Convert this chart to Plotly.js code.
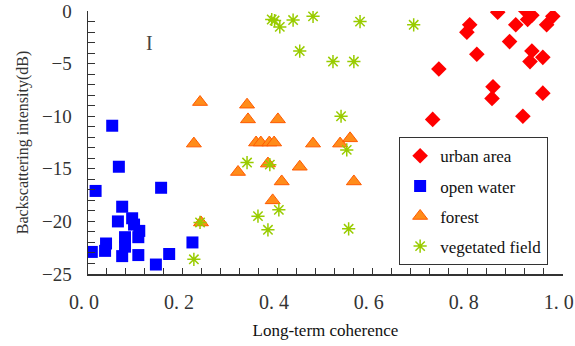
<!DOCTYPE html>
<html>
<head>
<meta charset="utf-8">
<script src="https://cdn.plot.ly/plotly-3.0.1.min.js"></script>
<style>html,body{margin:0;padding:0;background:#fff;}#chart{width:575px;height:346px;}</style>
</head>
<body>
<div id="chart"></div>
<script>
// Data
var seriesNames = ["urban area", "open water", "forest", "vegetated field"];

var urbanX = [0.863, 0.922, 0.935, 0.926, 0.979, 0.901, 0.966, 0.804, 0.798, 0.888, 0.819, 0.935, 0.958, 0.931, 0.739, 0.853, 0.851, 0.958, 0.916, 0.726];
var urbanY = [-0.1, 0.0, -0.4, -0.8, -0.5, -1.3, -1.3, -1.3, -2.0, -2.9, -4.1, -3.8, -4.4, -4.8, -5.5, -7.2, -8.3, -7.8, -10.0, -10.3];

var waterX = [0.051, 0.065, 0.016, 0.154, 0.072, 0.063, 0.093, 0.097, 0.108, 0.106, 0.078, 0.078, 0.038, 0.036, 0.008, 0.072, 0.106, 0.143, 0.171, 0.220];
var waterY = [-10.9, -14.8, -17.1, -16.8, -18.6, -20.0, -19.7, -20.3, -20.9, -21.5, -21.5, -22.4, -22.1, -22.8, -22.9, -23.3, -23.2, -24.1, -23.1, -22.0];

var forestX = [0.236, 0.223, 0.238, 0.335, 0.337, 0.400, 0.354, 0.364, 0.382, 0.392, 0.474, 0.531, 0.552, 0.379, 0.446, 0.316, 0.408, 0.560, 0.389];
var forestY = [-8.65, -12.6, -20.1, -8.9, -10.3, -10.3, -12.5, -12.5, -12.5, -12.5, -12.6, -12.6, -12.1, -14.5, -14.8, -15.3, -16.2, -16.2, -18.0];

var vegX = [0.387, 0.393, 0.404, 0.432, 0.474, 0.573, 0.686, 0.446, 0.516, 0.560, 0.533, 0.545, 0.335, 0.383, 0.402, 0.358, 0.379, 0.549, 0.236, 0.223];
var vegY = [-0.8, -0.9, -1.5, -0.85, -0.5, -1.0, -1.3, -3.8, -4.8, -4.8, -10.0, -13.2, -14.4, -14.6, -18.9, -19.5, -20.8, -20.7, -20.1, -23.6];

var xTickVals = [0, 0.2, 0.4, 0.6, 0.8, 1.0];
var xTickText = ["0.\u00a00", "0.\u00a02", "0.\u00a04", "0.\u00a06", "0.\u00a08", "1.\u00a00"];
var yTickVals = [0, -5, -10, -15, -20, -25];
var yTickText = ["0", "\u22125", "\u221210", "\u221215", "\u221220", "\u221225"];

var serif = "Liberation Serif";

var traces = [
  {x: urbanX, y: urbanY, name: seriesNames[0], legendgroup: "a", type: "scatter", mode: "markers",
   marker: {symbol: "diamond", size: 12, color: "#ff0000", line: {width: 0}}},
  {x: waterX, y: waterY, name: seriesNames[1], legendgroup: "b", type: "scatter", mode: "markers",
   marker: {symbol: "square", size: 12, color: "#0000ff", line: {width: 0}}},
  {x: forestX, y: forestY, name: seriesNames[2], legendgroup: "c", type: "scatter", mode: "markers",
   marker: {symbol: "triangle-up", size: 13, color: "#ff8c1a", line: {width: 1, color: "#ff5a00"}}},
  {x: vegX, y: vegY, name: seriesNames[3], legendgroup: "d", type: "scatter", mode: "markers",
   marker: {symbol: "asterisk-open", size: 11, color: "#99cc00", line: {width: 1.5, color: "#99cc00"}}}
];

var layout = {
  width: 575, height: 346,
  margin: {l: 88, r: 12, t: 11, b: 72},
  paper_bgcolor: "#fff", plot_bgcolor: "#fff",
  showlegend: true,
  font: {family: serif, color: "#222"},
  xaxis: {
    range: [0, 1.0005], showgrid: false, zeroline: false,
    showline: true, linecolor: "#333", linewidth: 1.5, mirror: false,
    ticks: "inside", ticklen: 6, tickcolor: "#333", tickwidth: 1,
    tickvals: xTickVals, ticktext: xTickText,
    tickfont: {family: serif, size: 20, color: "#333"},
    ticklabelstandoff: 9, ticklabelshift: -4, ticklabeloverflow: "allow",
    minor: {ticks: "inside", dtick: 0.04, ticklen: 6, tickcolor: "#333", tickwidth: 1, showgrid: false},
    title: {text: "Long-term coherence", font: {family: serif, size: 17, color: "#111"}, standoff: 12}
  },
  yaxis: {
    range: [-25, 0.01], showgrid: false, zeroline: false,
    showline: true, linecolor: "#333", linewidth: 1.5,
    ticks: "inside", ticklen: 7, tickcolor: "#333", tickwidth: 1,
    tickvals: yTickVals, ticktext: yTickText,
    tickfont: {family: serif, size: 19, color: "#333"},
    ticklabelstandoff: 11, ticklabeloverflow: "allow",
    minor: {ticks: "inside", dtick: 1, ticklen: 7, tickcolor: "#333", tickwidth: 1, showgrid: false},
    title: {text: "Backscattering intensity(dB)", font: {family: serif, size: 16, color: "#333"}, standoff: 9}
  },
  legend: {
    x: 0.655, y: 0.52, xanchor: "left", yanchor: "top",
    bgcolor: "#fff", bordercolor: "#333", borderwidth: 1,
    font: {family: serif, size: 17, color: "#111"},
    traceorder: "grouped", tracegroupgap: 5
  },
  annotations: [
    {x: 0.13, y: -3.0, xref: "x", yref: "y", text: "I", showarrow: false,
     font: {family: serif, size: 20, color: "#444"}}
  ]
};

Plotly.newPlot("chart", traces, layout, {displayModeBar: false, staticPlot: true});
</script>
</body>
</html>
